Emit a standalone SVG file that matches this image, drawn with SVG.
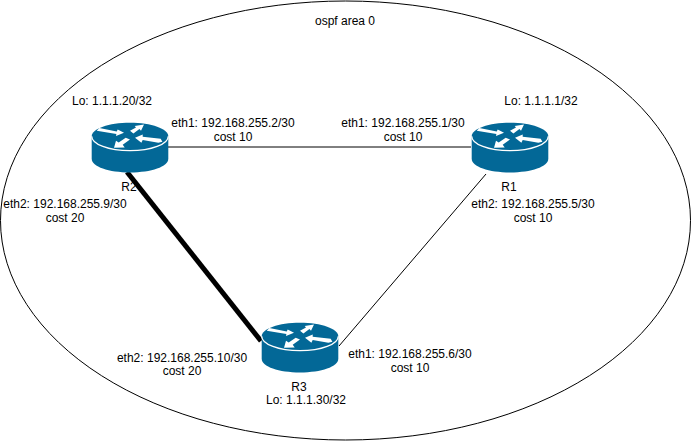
<svg xmlns="http://www.w3.org/2000/svg" width="691" height="441" viewBox="0 0 691 441">
<style>
text{font-family:"Liberation Sans",Arial,sans-serif;font-size:12px;fill:#000;text-anchor:middle}
.body{fill:#036897}
.w{fill:#fff}
.cap{fill:none;stroke:#fff;stroke-width:1.3}
.l{fill:none;stroke:#000}
</style>
<defs>
<g id="router">
<path class="body" d="M0 13.5C0 6 17 0 38.3 0S76.6 6 76.6 13.5V36C76.6 44 59.5 49.7 38.3 49.7S0 44 0 36Z"/>
<path class="cap" d="M0 13.5C0 21.5 17 28 38.3 28S76.6 21.5 76.6 13.5"/>
<polygon class="w" points="5,8 7.7,5.3 25,8.7 26,6.7 32.3,10 24.300,13.300 24.700,11.300"/>
<polygon class="w" points="52.300,1.700 49.300,8 47.700,6.300 41.700,10.700 38.300,8 44.300,4.700 43,3.300"/>
<polygon class="w" points="43.300,15 51,11.700 51,14 69,16 70.700,19 66.700,20 51,17.300 49.700,20"/>
<polygon class="w" points="22.300,25 24.300,18 27,19.700 34,15 38.300,16.700 31,22 33,24.700"/>
</g>
</defs>
<g id="area"><ellipse cx="345.500" cy="220.500" rx="345" ry="219.500" fill="#fff" stroke="#000"/><text x="345" y="25">ospf area 0</text></g>
<g id="connectors">
<line class="l" x1="168" y1="147" x2="471" y2="147"/>
<line class="l" stroke-width="5" style="stroke-width:5" x1="127" y1="172" x2="261" y2="341"/>
<line class="l" x1="486" y1="174" x2="339" y2="346"/>
</g>
<g id="R2"><use href="#router" x="91.700" y="122.700"/><text x="129" y="191">R2</text><text x="112" y="105">Lo: 1.1.1.20/32</text></g>
<g id="R1"><use href="#router" x="471.700" y="122.700"/><text x="509" y="191">R1</text><text x="541" y="105">Lo: 1.1.1.1/32</text></g>
<g id="R3"><use href="#router" x="261.700" y="322.700"/><text x="299" y="391">R3</text><text x="306" y="404">Lo: 1.1.1.30/32</text></g>
<g id="labels">
<text x="233" y="127">eth1: 192.168.255.2/30</text><text x="233" y="141">cost 10</text>
<text x="403" y="127">eth1: 192.168.255.1/30</text><text x="403" y="141">cost 10</text>
<text x="65" y="208">eth2: 192.168.255.9/30</text><text x="65" y="222">cost 20</text>
<text x="533" y="208">eth2: 192.168.255.5/30</text><text x="533" y="222">cost 10</text>
<text x="182" y="362">eth2: 192.168.255.10/30</text><text x="182" y="375">cost 20</text>
<text x="410" y="358">eth1: 192.168.255.6/30</text><text x="410" y="372">cost 10</text>
</g>
</svg>
